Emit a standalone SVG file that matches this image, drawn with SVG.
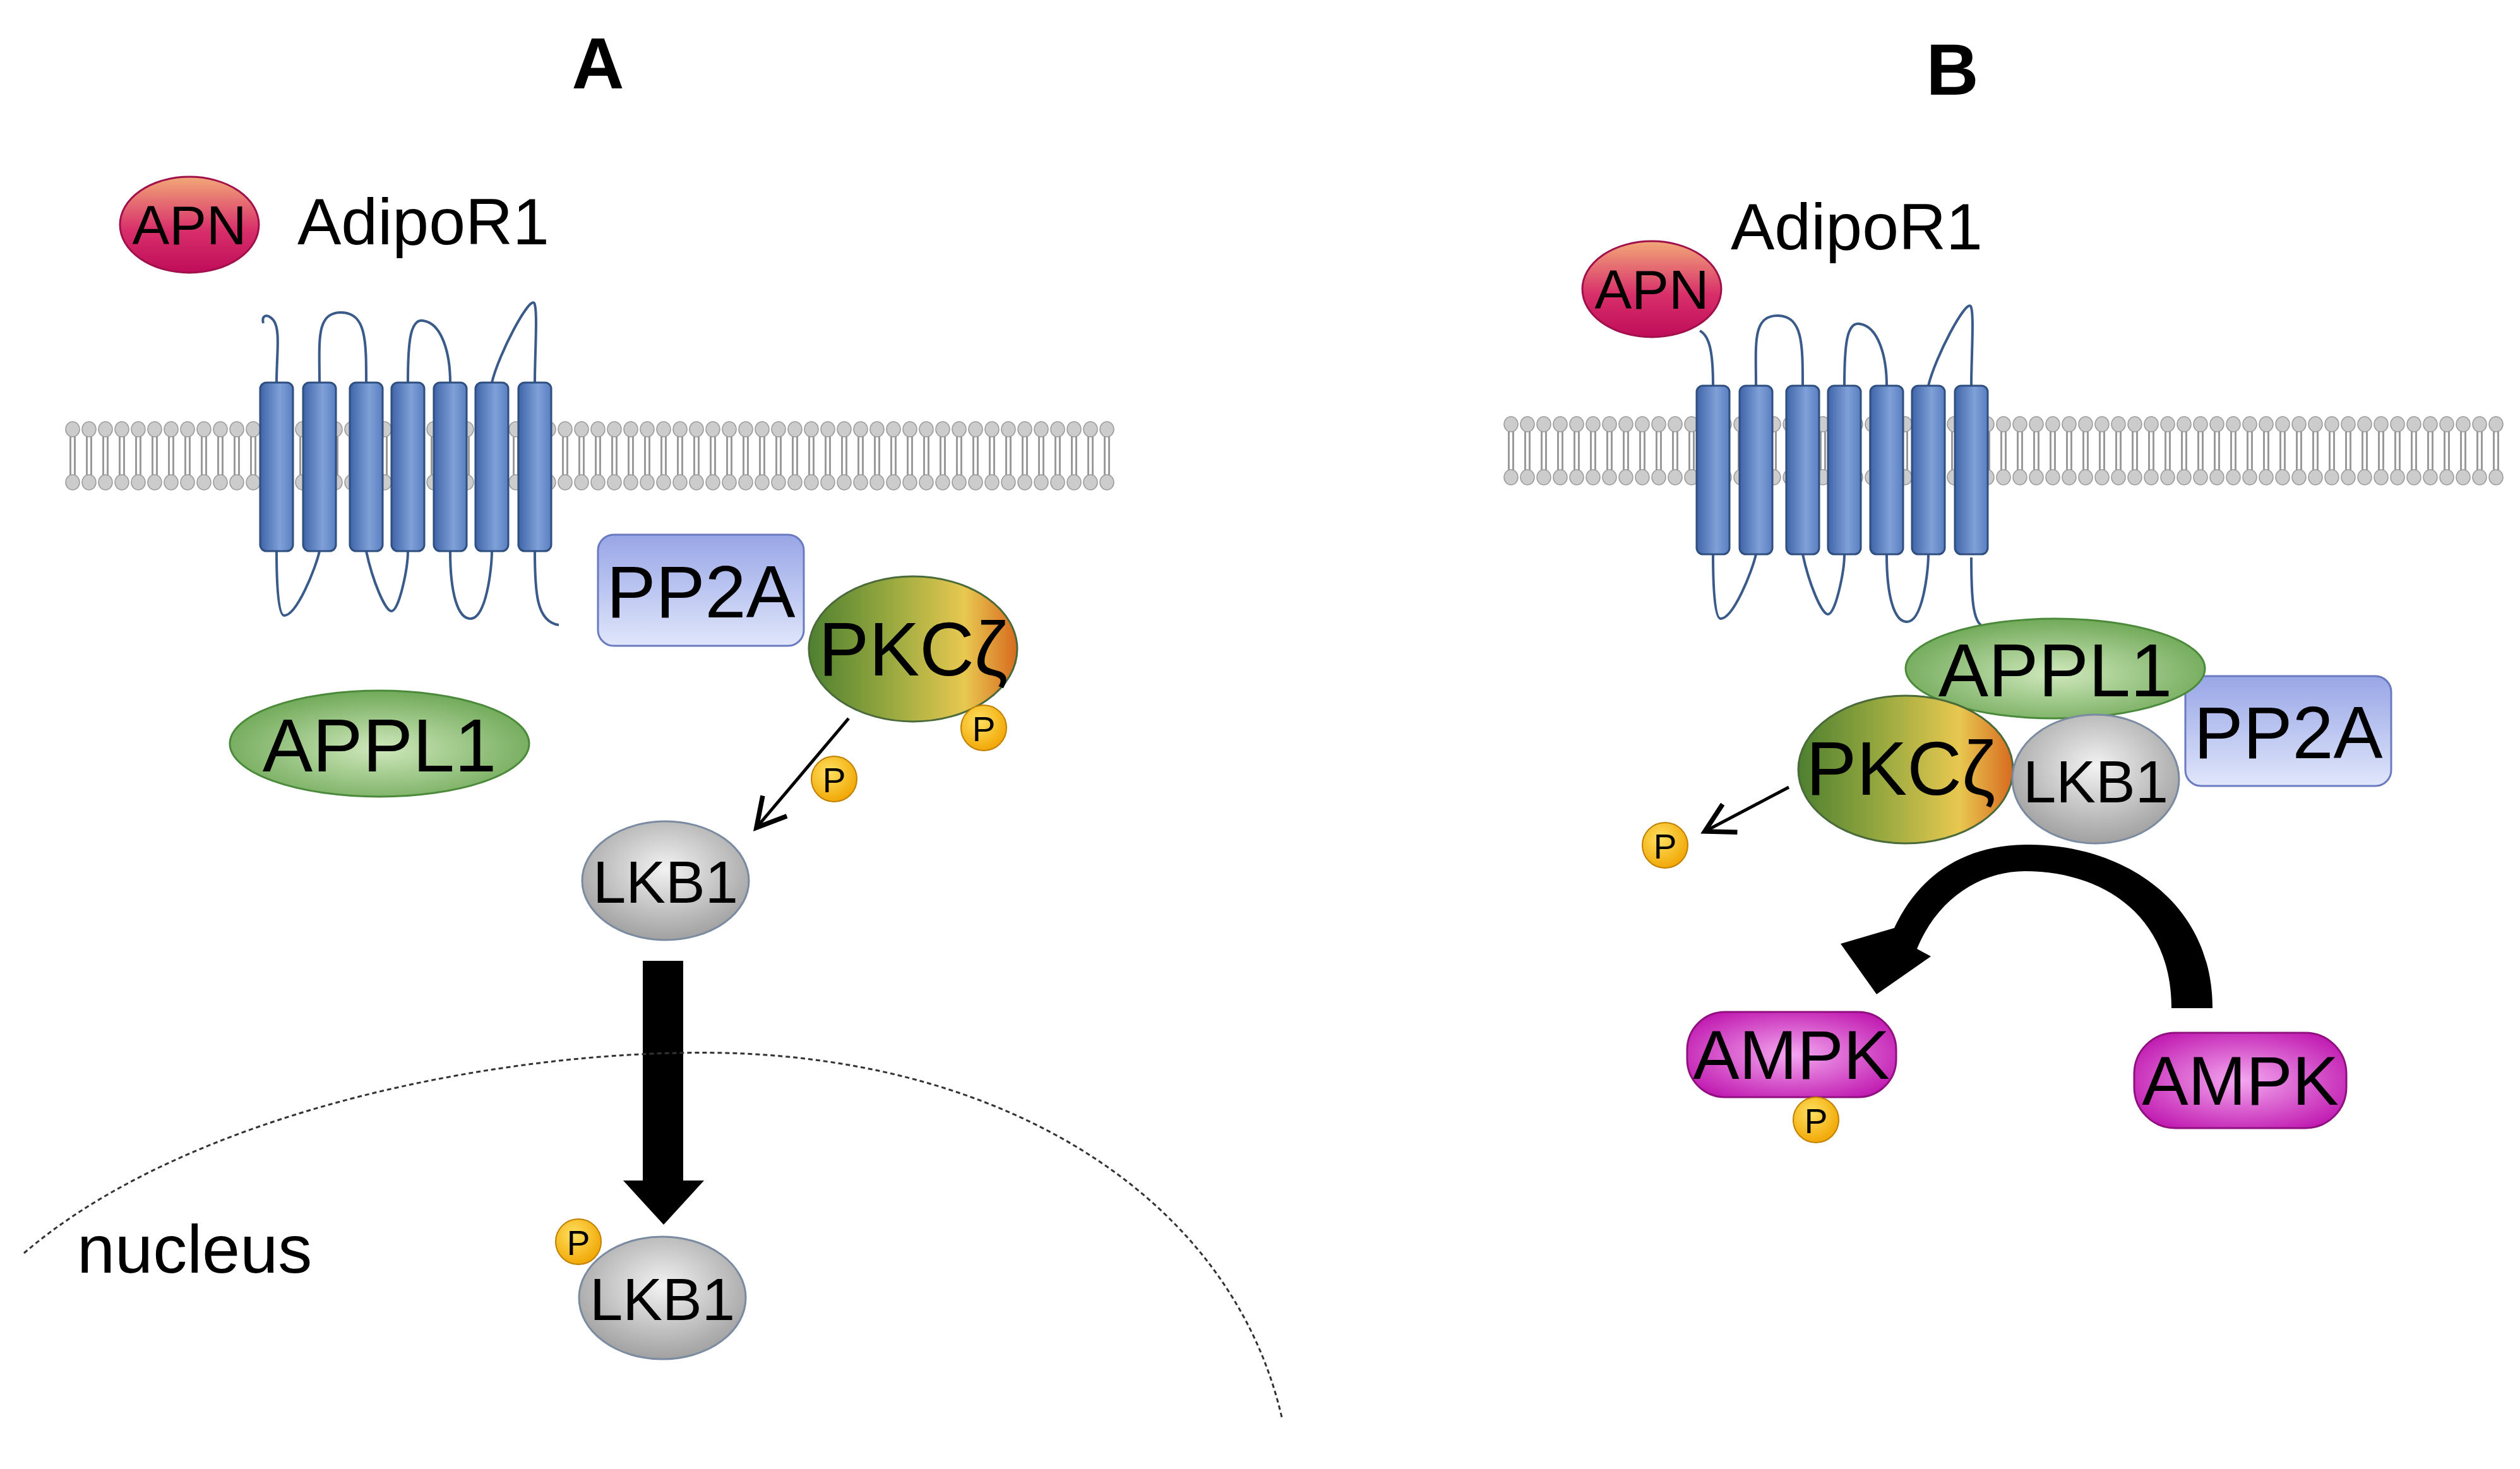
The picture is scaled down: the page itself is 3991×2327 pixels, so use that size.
<svg xmlns="http://www.w3.org/2000/svg" width="3991" height="2327" viewBox="0 0 3991 2327" font-family="'Liberation Sans', Arial, sans-serif">
<defs>
<style>
text{font-family:'Liberation Sans',Arial,sans-serif;fill:#000}
.lbl{text-anchor:middle;dominant-baseline:central}
.loop{fill:none;stroke:#3a5a8a;stroke-width:4}
.helix{fill:url(#gHel);stroke:#2f4f80;stroke-width:3}
.p{fill:url(#gP);stroke:#c08000;stroke-width:2}
</style>
<linearGradient id="gHel" x1="0" x2="1" y1="0" y2="0"><stop offset="0" stop-color="#3f64a8"/><stop offset="0.6" stop-color="#7fa0d8"/><stop offset="1" stop-color="#5a7ec0"/></linearGradient>
<linearGradient id="gAPN" x1="0" x2="0" y1="0" y2="1"><stop offset="0" stop-color="#f2a878"/><stop offset="0.55" stop-color="#d8306a"/><stop offset="1" stop-color="#c00c5a"/></linearGradient>
<linearGradient id="gPKC" x1="0" x2="1" y1="0" y2="0"><stop offset="0" stop-color="#4e8030"/><stop offset="0.4" stop-color="#9aaa40"/><stop offset="0.75" stop-color="#e8c850"/><stop offset="1" stop-color="#d86a20"/></linearGradient>
<radialGradient id="gAPPL" cx="0.5" cy="0.55" r="0.6"><stop offset="0" stop-color="#cfe8bc"/><stop offset="1" stop-color="#68a450"/></radialGradient>
<radialGradient id="gLKB" cx="0.5" cy="0.4" r="0.65"><stop offset="0" stop-color="#f2f2f2"/><stop offset="1" stop-color="#9a9a9a"/></radialGradient>
<linearGradient id="gPP2A" x1="0" x2="0" y1="0" y2="1"><stop offset="0" stop-color="#98a6e6"/><stop offset="1" stop-color="#e0e6fb"/></linearGradient>
<radialGradient id="gAMPK" cx="0.5" cy="0.5" r="0.6"><stop offset="0" stop-color="#f4a8f0"/><stop offset="1" stop-color="#c01ab0"/></radialGradient>
<radialGradient id="gP" cx="0.4" cy="0.35" r="0.7"><stop offset="0" stop-color="#ffe060"/><stop offset="1" stop-color="#f0a400"/></radialGradient>
<pattern id="lip" width="26" height="110" patternUnits="userSpaceOnUse">
<line x1="9.5" y1="22" x2="9.5" y2="88" stroke="#9a9a9a" stroke-width="3"/>
<line x1="16.5" y1="22" x2="16.5" y2="88" stroke="#9a9a9a" stroke-width="3"/>
<ellipse cx="13" cy="13" rx="11" ry="12" fill="#cccccc" stroke="#9a9a9a" stroke-width="1.5"/>
<ellipse cx="13" cy="97" rx="11" ry="12" fill="#cccccc" stroke="#9a9a9a" stroke-width="1.5"/>
</pattern>
<marker id="open" markerWidth="12" markerHeight="12" refX="10" refY="6" orient="auto" markerUnits="strokeWidth"><path d="M1,1 L10,6 L1,11" fill="none" stroke="#000" stroke-width="1.5"/></marker>
<g id="rec">
<path class="loop" d="M506,606 C506,540 500,495 540,495 C580,495 580,540 580,606"/>
<path class="loop" d="M646,606 C646,540 650,505 670,508 C700,512 713,560 713,606"/>
<path class="loop" d="M779,606 C790,560 838,470 846,480 C852,490 847,560 847,606"/>
<path class="loop" d="M438,873 C438,920 440,975 450,975 C470,975 500,900 506,873"/>
<path class="loop" d="M580,873 C590,920 610,968 620,968 C632,968 646,900 646,873"/>
<path class="loop" d="M713,873 C713,940 725,980 745,980 C770,980 779,900 779,873"/>
<rect class="helix" x="412" y="606" width="52" height="267" rx="10"/>
<rect class="helix" x="480" y="606" width="52" height="267" rx="10"/>
<rect class="helix" x="554" y="606" width="52" height="267" rx="10"/>
<rect class="helix" x="620" y="606" width="52" height="267" rx="10"/>
<rect class="helix" x="687" y="606" width="52" height="267" rx="10"/>
<rect class="helix" x="753" y="606" width="52" height="267" rx="10"/>
<rect class="helix" x="821" y="606" width="52" height="267" rx="10"/>
</g>
</defs>

<text x="947" y="140" font-size="115" font-weight="bold" text-anchor="middle">A</text>
<text x="3092" y="150" font-size="115" font-weight="bold" text-anchor="middle">B</text>

<g id="membraneA"><g transform="translate(102,667)"><rect width="1664" height="110" fill="url(#lip)"/></g></g>
<g id="membraneB"><g transform="translate(2380,659)"><rect width="1586" height="110" fill="url(#lip)"/></g></g>

<g id="receptorA">
<path class="loop" d="M438,606 C438,560 445,520 432,506 C422,496 414,500 417,512"/>
<path class="loop" d="M847,873 C847,940 850,985 885,990"/>
<use href="#rec"/>
<text x="471" y="387" font-size="104">AdipoR1</text>
</g>
<g id="receptorB">
<path class="loop" d="M2713,611 C2713,560 2708,532 2692,524"/>
<path class="loop" d="M3122,883 C3122,950 3125,985 3140,992"/>
<use href="#rec" transform="translate(2275,5)"/>
<text x="2741" y="395" font-size="104">AdipoR1</text>
</g>

<g id="apnA"><ellipse cx="300" cy="356" rx="110" ry="76" fill="url(#gAPN)" stroke="#a0104a" stroke-width="3"/><text class="lbl" x="300" y="356" font-size="88">APN</text></g>
<g id="apnB"><ellipse cx="2616" cy="458" rx="110" ry="76" fill="url(#gAPN)" stroke="#a0104a" stroke-width="3"/><text class="lbl" x="2616" y="458" font-size="88">APN</text></g>

<g id="connectors">
<line x1="1344" y1="1138" x2="1198" y2="1311" stroke="#000" stroke-width="5" marker-end="url(#open)"/>
<line x1="2833" y1="1247" x2="2700" y2="1317" stroke="#000" stroke-width="5" marker-end="url(#open)"/>
<path d="M1018,1522 H1082 V1870 H1115 L1051,1940 L987,1870 H1018 Z" fill="#000"/>
<path d="M3504,1597 C3504,1420 3350,1335 3207,1338 C3100,1340 3035,1395 3000,1470 L2915,1495 L2972,1575 L3058,1515 L3036,1503 C3070,1420 3140,1380 3207,1380 C3330,1380 3439,1450 3439,1597 Z" fill="#000"/>
</g>

<g id="nucleus"><path d="M38,1985 C300,1760 800,1660 1150,1668 C1600,1680 1950,1900 2030,2245" fill="none" stroke="#333" stroke-width="3" stroke-dasharray="7,5"/>
<text x="122" y="2016" font-size="108">nucleus</text></g>

<g id="pp2aA"><rect x="947" y="847" width="326" height="176" rx="25" fill="url(#gPP2A)" stroke="#6a7ac0" stroke-width="3"/><text class="lbl" x="1110" y="937" font-size="117">PP2A</text></g>
<g id="appl1A"><ellipse cx="601" cy="1178" rx="237" ry="84" fill="url(#gAPPL)" stroke="#4a8a3a" stroke-width="3"/><text class="lbl" x="601" y="1180" font-size="119">APPL1</text></g>
<g id="pkcA"><ellipse cx="1446" cy="1028" rx="165" ry="115" fill="url(#gPKC)" stroke="#4a6a3a" stroke-width="3"/><text class="lbl" x="1446" y="1028" font-size="120">PKCζ</text>
<circle class="p" cx="1558" cy="1153" r="36"/><text class="lbl" x="1558" y="1155" font-size="55">P</text></g>
<g id="pA"><circle class="p" cx="1321" cy="1234" r="36"/><text class="lbl" x="1321" y="1236" font-size="55">P</text></g>
<g id="lkb1A"><ellipse cx="1054" cy="1395" rx="132" ry="94" fill="url(#gLKB)" stroke="#7a8aa0" stroke-width="3"/><text class="lbl" x="1054" y="1397" font-size="94">LKB1</text></g>
<g id="lkb1Anuc"><ellipse cx="1049" cy="2056" rx="132" ry="97" fill="url(#gLKB)" stroke="#7a8aa0" stroke-width="3"/><text class="lbl" x="1049" y="2058" font-size="94">LKB1</text>
<circle class="p" cx="916" cy="1967" r="36"/><text class="lbl" x="916" y="1969" font-size="55">P</text></g>

<g id="pp2aB"><rect x="3461" y="1071" width="326" height="174" rx="25" fill="url(#gPP2A)" stroke="#6a7ac0" stroke-width="3"/><text class="lbl" x="3624" y="1160" font-size="117">PP2A</text></g>
<g id="appl1B"><ellipse cx="3255" cy="1059" rx="237" ry="79" fill="url(#gAPPL)" stroke="#4a8a3a" stroke-width="3"/><text class="lbl" x="3255" y="1061" font-size="119">APPL1</text></g>
<g id="pkcB"><ellipse cx="3018" cy="1219" rx="170" ry="117" fill="url(#gPKC)" stroke="#4a6a3a" stroke-width="3"/><text class="lbl" x="3010" y="1217" font-size="120">PKCζ</text></g>
<g id="lkb1B"><ellipse cx="3319" cy="1234" rx="132" ry="102" fill="url(#gLKB)" stroke="#7a8aa0" stroke-width="3"/><text class="lbl" x="3319" y="1238" font-size="94">LKB1</text></g>
<g id="pB"><circle class="p" cx="2637" cy="1339" r="36"/><text class="lbl" x="2637" y="1341" font-size="55">P</text></g>

<g id="ampkL"><rect x="2672" y="1603" width="331" height="135" rx="60" fill="url(#gAMPK)" stroke="#901080" stroke-width="3"/><text class="lbl" x="2837" y="1670" font-size="110">AMPK</text>
<circle class="p" cx="2876" cy="1774" r="36"/><text class="lbl" x="2876" y="1776" font-size="55">P</text></g>
<g id="ampkR"><rect x="3380" y="1636" width="336" height="151" rx="65" fill="url(#gAMPK)" stroke="#901080" stroke-width="3"/><text class="lbl" x="3548" y="1711" font-size="110">AMPK</text></g>
</svg>
